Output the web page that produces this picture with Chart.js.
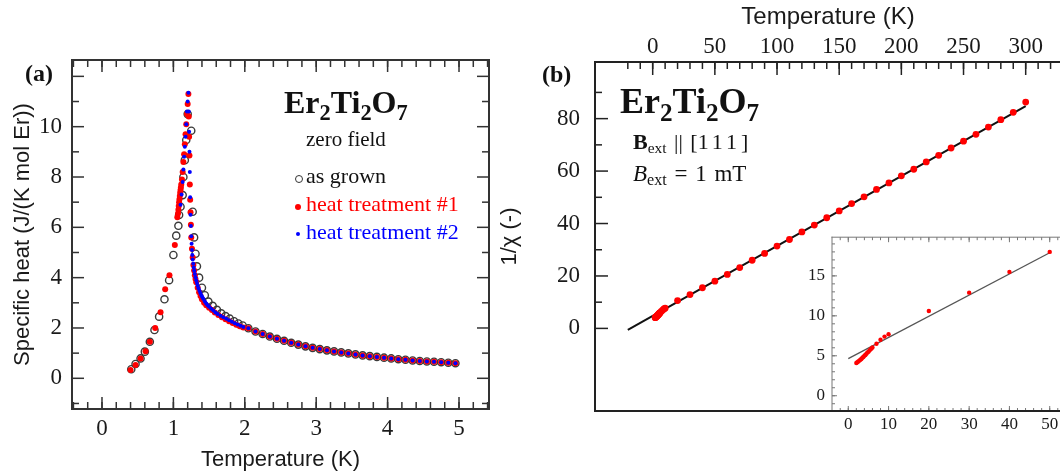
<!DOCTYPE html>
<html>
<head>
<meta charset="utf-8">
<script src="https://cdn.jsdelivr.net/npm/chart.js@4.4.1/dist/chart.umd.min.js"></script>
<style>
  html, body { margin: 0; padding: 0; background: #fff; overflow: hidden; }
  #wrap { position: relative; width: 1060px; height: 474px; overflow: hidden; background: #fff; }
  canvas { position: absolute; }
  .t { position: absolute; font-family: "Liberation Serif", "Times New Roman", serif; white-space: nowrap; line-height: 1; color: #111; }
  .sub { position: relative; top: 0.32em; font-size: 0.7em; }
  .dot { position: absolute; border-radius: 50%; box-sizing: border-box; }
</style>
</head>
<body>
<div id="wrap">
  <canvas id="chartA" width="530" height="474" style="left:0;top:0"></canvas>
  <canvas id="chartB" width="590" height="474" style="left:490px;top:0"></canvas>
  <canvas id="chartC" width="300" height="254" style="left:780px;top:220px"></canvas>

  <!-- panel (a) annotations -->
  <div class="t" style="left:25px;top:61px;font-size:24px;font-weight:bold">(a)</div>
  <div class="t" style="left:284px;top:86px;font-size:32px;font-weight:bold">Er<span class="sub">2</span>Ti<span class="sub">2</span>O<span class="sub">7</span></div>
  <div class="t" style="left:306px;top:129px;font-size:21px">zero field</div>
  <div class="dot" style="left:294.5px;top:174.5px;width:8px;height:8px;border:1.4px solid #333"></div>
  <div class="t" style="left:306px;top:165px;font-size:22px">as grown</div>
  <div class="dot" style="left:295px;top:203.5px;width:6px;height:6px;background:#ff0000"></div>
  <div class="t" style="left:306px;top:193px;font-size:22px;color:#ff0000">heat treatment #1</div>
  <div class="dot" style="left:296px;top:232px;width:4px;height:4px;background:#0000ff"></div>
  <div class="t" style="left:306px;top:220.5px;font-size:22px;color:#0000ff">heat treatment #2</div>

  <!-- panel (b) annotations -->
  <div class="t" style="left:542px;top:62px;font-size:24px;font-weight:bold">(b)</div>
  <div class="t" style="left:620px;top:83px;font-size:36px;font-weight:bold">Er<span class="sub">2</span>Ti<span class="sub">2</span>O<span class="sub">7</span></div>
  <div class="t" style="left:633px;top:131px;font-size:22px;word-spacing:2px"><b>B</b><span class="sub" style="top:0.25em">ext</span> || [<span style="letter-spacing:4px">111</span>]</div>
  <div class="t" style="left:633px;top:162px;font-size:23px;word-spacing:2px"><i>B</i><span class="sub" style="top:0.25em">ext</span> = 1 mT</div>
</div>

<script>
// ---------- panel (a): specific heat, zero field ----------
const tGrown = [0.41, 0.47, 0.54, 0.60, 0.67, 0.735, 0.80, 0.875, 0.94, 1.00, 1.04, 1.07, 1.08, 1.10, 1.13, 1.14, 1.16, 1.18, 1.20,
  1.25, 1.27, 1.29, 1.31, 1.33, 1.36, 1.40, 1.44, 1.49, 1.55, 1.61, 1.67, 1.73, 1.79, 1.85, 1.91, 1.97];
const cGrown = [0.36, 0.57, 0.79, 1.06, 1.45, 1.92, 2.45, 3.14, 3.90, 4.90, 5.67, 6.06, 6.49, 6.82, 7.28, 8.00, 8.67, 9.47, 10.50,
  9.84, 6.62, 5.60, 4.95, 4.45, 4.00, 3.60, 3.30, 3.05, 2.88, 2.72, 2.58, 2.47, 2.37, 2.27, 2.18, 2.10];

const tHT1 = [0.40, 0.47, 0.54, 0.61, 0.67, 0.745, 0.82, 0.885, 0.945, 1.02, 1.055, 1.065, 1.07, 1.075, 1.08, 1.085, 1.09, 1.095,
  1.10, 1.105, 1.11, 1.12, 1.13, 1.14, 1.15, 1.16, 1.17, 1.18, 1.19, 1.20, 1.21,
  1.215, 1.22, 1.225, 1.23, 1.235, 1.24, 1.245, 1.25, 1.26, 1.27, 1.28, 1.29, 1.30, 1.31, 1.32, 1.34, 1.36, 1.38, 1.40,
  1.43, 1.46, 1.50, 1.54, 1.58, 1.63, 1.68, 1.73, 1.78, 1.83, 1.88, 1.93, 1.98];
const cHT1 = [0.33, 0.53, 0.79, 1.08, 1.45, 2.00, 2.63, 3.54, 4.10, 5.30, 6.40, 6.55, 6.70, 6.85, 7.00, 7.12, 7.25, 7.37,
  7.48, 7.58, 7.70, 7.90, 8.20, 8.60, 8.90, 9.30, 9.70, 10.10, 10.50, 10.90, 11.30,
  10.40, 9.60, 8.85, 7.70, 7.10, 6.60, 6.10, 5.60, 5.15, 4.80, 4.50, 4.28, 4.10, 3.95, 3.82, 3.60, 3.42, 3.27, 3.14,
  3.00, 2.90, 2.80, 2.71, 2.62, 2.52, 2.43, 2.35, 2.27, 2.20, 2.13, 2.07, 2.02];

const tHT2 = [1.10, 1.115, 1.13, 1.14, 1.15, 1.16, 1.17, 1.18, 1.19, 1.20, 1.21,
  1.215, 1.22, 1.225, 1.23, 1.235, 1.24, 1.245, 1.25, 1.255, 1.26, 1.265, 1.27, 1.278, 1.285, 1.292, 1.30, 1.31, 1.32,
  1.33, 1.34, 1.352, 1.365, 1.378, 1.392, 1.406, 1.42, 1.44, 1.46, 1.48, 1.50, 1.53, 1.56, 1.59, 1.62, 1.66, 1.70,
  1.74, 1.78, 1.82, 1.86, 1.90, 1.94, 1.98];
const cHT2 = [6.90, 7.30, 7.80, 8.30, 8.80, 9.20, 9.60, 10.10, 10.60, 11.00, 11.35,
  10.60, 9.80, 9.00, 8.20, 7.20, 6.50, 6.05, 5.65, 5.35, 5.10, 4.90, 4.72, 4.55, 4.40, 4.27, 4.15, 4.02, 3.90,
  3.79, 3.68, 3.58, 3.48, 3.39, 3.30, 3.22, 3.15, 3.05, 2.97, 2.90, 2.84, 2.76, 2.69, 2.62, 2.56, 2.49, 2.43,
  2.37, 2.31, 2.25, 2.19, 2.14, 2.09, 2.04];

// above 2 K all three samples fall on the same points
const tTail = [2.05, 2.15, 2.25, 2.35, 2.45, 2.55, 2.65, 2.75, 2.85, 2.95, 3.05, 3.15, 3.25, 3.35, 3.45, 3.55, 3.65, 3.75,
  3.85, 3.95, 4.05, 4.15, 4.25, 4.35, 4.45, 4.55, 4.65, 4.75, 4.85, 4.95];
const cTail = [1.99, 1.86, 1.76, 1.66, 1.57, 1.49, 1.41, 1.34, 1.27, 1.21, 1.16, 1.11, 1.07, 1.03, 0.99, 0.95, 0.91, 0.88,
  0.85, 0.82, 0.79, 0.76, 0.74, 0.71, 0.69, 0.67, 0.66, 0.64, 0.62, 0.60];

const xTicksA = [0, 1, 2, 3, 4, 5];
const yTicksA = [0, 2, 4, 6, 8, 10];

// ---------- panel (b): inverse susceptibility ----------
const tChi = [2, 2.25, 2.5, 2.75, 3, 3.25, 3.5, 3.75, 4, 4.25, 4.5, 4.75, 5, 5.25, 5.5, 5.75, 6, 7, 8, 9, 10,
  20, 30, 40, 50, 60, 70, 80, 90, 100, 110, 120, 130, 140, 150, 160, 170, 180, 190, 200,
  210, 220, 230, 240, 250, 260, 270, 280, 290, 300];
const invChi = [4.1, 4.2, 4.3, 4.4, 4.5, 4.6, 4.75, 4.85, 5.0, 5.1, 5.25, 5.4, 5.5, 5.65, 5.8, 5.9, 6.05, 6.5, 7.0, 7.4, 7.7,
  10.6, 12.9, 15.5, 18.0, 20.6, 23.2, 26.0, 28.6, 31.4, 33.9, 36.8, 39.4, 42.2, 44.8, 47.6, 50.2, 53.0, 55.5, 58.2,
  60.7, 63.5, 66.0, 68.8, 71.4, 74.0, 76.8, 79.6, 82.4, 86.3];
const fitT = [-20, 300];
const fitChi = [-0.6, 84.8];
const insetFitT = [0, 50];
const insetFitChi = [4.65, 17.9];

const xTicksB = [0, 50, 100, 150, 200, 250, 300];
const yTicksB = [0, 20, 40, 60, 80];
const xTicksInset = [0, 10, 20, 30, 40, 50];
const yTicksInset = [0, 5, 10, 15];

// ---------- helpers ----------
const pts = (xs, ys) => xs.map((x, i) => ({ x, y: ys[i] }));
const range = (a, b, step) => {
  const out = [];
  for (let v = a; v <= b + 1e-9; v += step) out.push(Math.round(v * 1000) / 1000);
  return out;
};
const SERIF = "'Liberation Serif', 'Times New Roman', serif";
const SANS = "'Liberation Sans', Arial, sans-serif";
const TXT = '#1a1a1a';

// frame + inward ticks, the way the original plots are boxed
const framePlugin = {
  id: 'frame',
  beforeDatasetsDraw(chart, args, o) {
    if (!o.bg) return;
    const a = chart.chartArea;
    chart.ctx.save();
    chart.ctx.fillStyle = o.bg;
    chart.ctx.fillRect(a.left, a.top, a.right - a.left, a.bottom - a.top);
    chart.ctx.restore();
  },
  afterDatasetsDraw(chart, args, o) {
    const { ctx, chartArea: a } = chart;
    const xs = chart.scales.x, ys = chart.scales.y;
    ctx.save();
    ctx.strokeStyle = o.tickColor;
    ctx.lineWidth = o.tickWidth;
    const tick = (x1, y1, x2, y2) => { ctx.beginPath(); ctx.moveTo(x1, y1); ctx.lineTo(x2, y2); ctx.stroke(); };
    const xt = (vals, len) => vals.forEach(v => {
      const p = xs.getPixelForValue(v);
      if (p < a.left + 1 || p > a.right - 1) return;
      if (o.xSides.includes('top')) tick(p, a.top, p, a.top + len);
      if (o.xSides.includes('bottom')) tick(p, a.bottom, p, a.bottom - len);
    });
    const yt = (vals, len) => vals.forEach(v => {
      const p = ys.getPixelForValue(v);
      if (p < a.top + 1 || p > a.bottom - 1) return;
      if (o.ySides.includes('left')) tick(a.left, p, a.left + len, p);
      if (o.ySides.includes('right')) tick(a.right, p, a.right - len, p);
    });
    xt(o.xMinor, o.minorLen); xt(o.xMajor, o.majorLen);
    yt(o.yMinor, o.minorLen); yt(o.yMajor, o.majorLen);
    ctx.lineCap = 'square';
    for (const [side, w, c] of o.sides) {
      ctx.strokeStyle = c; ctx.lineWidth = w;
      if (side === 'left') tick(a.left, a.top, a.left, a.bottom);
      if (side === 'right') tick(a.right, a.top, a.right, a.bottom);
      if (side === 'top') tick(a.left, a.top, a.right, a.top);
      if (side === 'bottom') tick(a.left, a.bottom, a.right, a.bottom);
    }
    ctx.restore();
  }
};

function axis(opts) {
  return {
    type: 'linear',
    position: opts.position,
    min: opts.min,
    max: opts.max,
    grid: { display: false, drawTicks: false, tickLength: 0 },
    border: { display: false },
    afterBuildTicks: s => { s.ticks = opts.ticks.map(v => ({ value: v })); },
    afterFit: s => { if (opts.width != null) s.width = opts.width; if (opts.height != null) s.height = opts.height; },
    ticks: { autoSkip: false, maxRotation: 0, padding: opts.pad, color: TXT, font: { family: SERIF, size: opts.fontSize } },
    title: opts.title ? {
      display: true, text: opts.title, color: TXT,
      font: { family: SANS, size: opts.titleSize }, padding: opts.titlePad
    } : { display: false }
  };
}

const baseOptions = {
  responsive: false,
  animation: false,
  events: [],
};

// ---------- chart (a) ----------
new Chart(document.getElementById('chartA'), {
  type: 'scatter',
  data: {
    datasets: [
      { label: 'heat treatment #2', data: pts(tHT2.concat(tTail), cHT2.concat(cTail)), pointRadius: 2, backgroundColor: '#0000ff', borderWidth: 0, order: 1 },
      { label: 'heat treatment #1', data: pts(tHT1.concat(tTail), cHT1.concat(cTail)), pointRadius: 3, backgroundColor: '#ff0000', borderWidth: 0, order: 2 },
      { label: 'as grown', data: pts(tGrown.concat(tTail), cGrown.concat(cTail)), pointRadius: 3.6, backgroundColor: 'rgba(0,0,0,0)', borderColor: '#3a3a3a', borderWidth: 1.4, order: 3 }
    ]
  },
  options: {
    ...baseOptions,
    layout: { padding: { left: 0, top: 60, right: 41, bottom: 0 } },
    scales: {
      x: axis({ position: 'bottom', min: -0.42, max: 5.42, ticks: xTicksA, height: 65, pad: 6, fontSize: 23,
        title: 'Temperature (K)', titleSize: 22, titlePad: { top: 0, bottom: 1 } }),
      y: axis({ position: 'left', min: -1.22, max: 12.65, ticks: yTicksA, width: 72, pad: 10, fontSize: 23,
        title: 'Specific heat (J/(K mol Er))', titleSize: 22, titlePad: { top: 10, bottom: 0 } })
    },
    plugins: {
      legend: { display: false },
      tooltip: { enabled: false },
      frame: {
        sides: [['left', 2, '#333'], ['right', 2, '#333'], ['top', 2, '#333'], ['bottom', 2, '#333']],
        tickColor: '#333', tickWidth: 1.5, majorLen: 12, minorLen: 7,
        xSides: ['top', 'bottom'], ySides: ['left', 'right'],
        xMajor: xTicksA, xMinor: range(-0.4, 5.4, 0.2),
        yMajor: range(0, 12, 2), yMinor: range(-1, 11, 2)
      }
    }
  },
  plugins: [framePlugin]
});

// ---------- chart (b) ----------
new Chart(document.getElementById('chartB'), {
  type: 'scatter',
  data: {
    datasets: [
      { label: 'data', data: pts(tChi, invChi), pointRadius: 3.4, backgroundColor: '#ff0000', borderWidth: 0, order: 1 },
      { label: 'fit', data: pts(fitT, fitChi), showLine: true, pointRadius: 0, borderColor: '#111', borderWidth: 2, order: 2 }
    ]
  },
  options: {
    ...baseOptions,
    layout: { padding: { left: 0, top: 0, right: 19, bottom: 63 } },
    scales: {
      x: axis({ position: 'top', min: -46.4, max: 328.4, ticks: xTicksB, height: 62, pad: 1, fontSize: 23,
        title: 'Temperature (K)', titleSize: 24, titlePad: { top: 3, bottom: 0 } }),
      y: axis({ position: 'left', min: -31.5, max: 101.6, ticks: yTicksB, width: 105, pad: 15, fontSize: 23,
        title: '1/\u03c7 (-)', titleSize: 22, titlePad: { top: 7, bottom: 0 } })
    },
    plugins: {
      legend: { display: false },
      tooltip: { enabled: false },
      frame: {
        sides: [['left', 2, '#222'], ['top', 2, '#222'], ['bottom', 2, '#222']],
        tickColor: '#222', tickWidth: 1.5, majorLen: 13, minorLen: 7,
        xSides: ['top'], ySides: ['left'],
        xMajor: xTicksB, xMinor: range(-20, 320, 10),
        yMajor: yTicksB, yMinor: range(10, 90, 20)
      }
    }
  },
  plugins: [framePlugin]
});

// ---------- inset of (b) ----------
new Chart(document.getElementById('chartC'), {
  type: 'scatter',
  data: {
    datasets: [
      { label: 'data', data: pts(tChi, invChi), pointRadius: 2.2, backgroundColor: '#ff0000', borderWidth: 0, order: 1 },
      { label: 'fit', data: pts(insetFitT, insetFitChi), showLine: true, pointRadius: 0, borderColor: '#555', borderWidth: 1.3, order: 2 }
    ]
  },
  options: {
    ...baseOptions,
    layout: { padding: { left: 0, top: 17, right: 19, bottom: 0 } },
    scales: {
      x: axis({ position: 'bottom', min: -4.04, max: 52.8, ticks: xTicksInset, height: 63, pad: 3, fontSize: 17 }),
      y: axis({ position: 'left', min: -1.91, max: 19.84, ticks: yTicksInset, width: 52, pad: 7, fontSize: 17 })
    },
    plugins: {
      legend: { display: false },
      tooltip: { enabled: false },
      frame: {
        bg: '#ffffff',
        sides: [['left', 1, '#777'], ['top', 1, '#777'], ['bottom', 2, '#222']],
        tickColor: '#777', tickWidth: 1, majorLen: 5, minorLen: 3,
        xSides: ['top', 'bottom'], ySides: ['left'],
        xMajor: xTicksInset, xMinor: range(-2, 52, 2),
        yMajor: yTicksInset, yMinor: range(-1, 19, 1)
      }
    }
  },
  plugins: [framePlugin]
});
</script>
</body>
</html>
